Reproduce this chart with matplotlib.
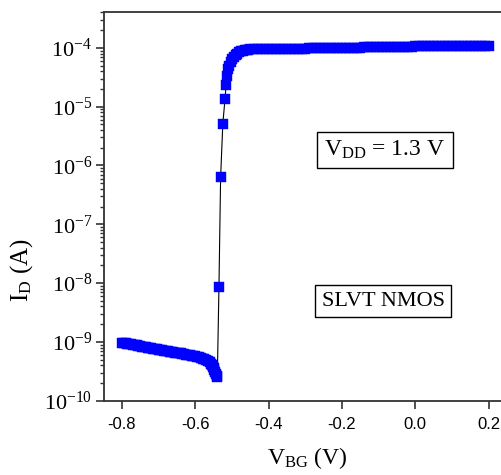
import numpy as np
import matplotlib
matplotlib.use("Agg")
import matplotlib.pyplot as plt
from matplotlib.ticker import LogLocator, NullFormatter

# back-gate sweep, values
# off state, current in units of 1e-10 A
vbg_off = [-0.800, -0.795, -0.790, -0.785, -0.780, -0.775, -0.770, -0.765, -0.760, -0.755,
           -0.750, -0.745, -0.740, -0.735, -0.730, -0.725, -0.720, -0.715, -0.710, -0.705,
           -0.700, -0.695, -0.690, -0.685, -0.680, -0.675, -0.670, -0.665, -0.660, -0.655,
           -0.650, -0.645, -0.640, -0.635, -0.630, -0.625, -0.620, -0.615, -0.610, -0.605,
           -0.600, -0.595, -0.590, -0.585, -0.580, -0.575, -0.570, -0.565, -0.560, -0.557,
           -0.555, -0.552, -0.550, -0.548, -0.546, -0.544, -0.542, -0.540]
id_off = [9.6, 9.5, 9.4, 9.3, 9.2, 9.1, 9.0, 8.85, 8.7, 8.6,
          8.45, 8.35, 8.25, 8.1, 8.0, 7.9, 7.8, 7.7, 7.6, 7.5,
          7.4, 7.3, 7.2, 7.1, 7.0, 6.9, 6.85, 6.75, 6.7, 6.6,
          6.5, 6.4, 6.35, 6.25, 6.2, 6.1, 6.0, 5.9, 5.85, 5.75,
          5.7, 5.55, 5.45, 5.3, 5.2, 5.05, 4.9, 4.7, 4.5, 4.25,
          4.06, 3.8, 3.6, 3.35, 3.1, 2.85, 2.6, 2.5]

# switching region, current in A
vbg_sw = [-0.5355, -0.531, -0.525, -0.519, -0.516, -0.513, -0.510, -0.507, -0.504, -0.500,
          -0.495, -0.490, -0.485, -0.480, -0.475, -0.470, -0.465, -0.460, -0.455, -0.450]
id_sw = [8.6e-9, 6.3e-7, 5.1e-6, 1.35e-5, 2.35e-5, 3.3e-5, 4.3e-5, 5.0e-5, 5.7e-5, 6.4e-5,
         7.1e-5, 7.6e-5, 8.0e-5, 8.4e-5, 8.7e-5, 8.9e-5, 9.1e-5, 9.2e-5, 9.3e-5, 9.4e-5]

# on state, current in units of 1e-5 A
vbg_on = [-0.44, -0.43, -0.42, -0.41, -0.40, -0.39, -0.38, -0.37, -0.36, -0.35,
          -0.34, -0.33, -0.32, -0.31, -0.30, -0.29, -0.28, -0.27, -0.26, -0.25,
          -0.24, -0.23, -0.22, -0.21, -0.20, -0.19, -0.18, -0.17, -0.16, -0.15,
          -0.14, -0.13, -0.12, -0.11, -0.10, -0.09, -0.08, -0.07, -0.06, -0.05,
          -0.04, -0.03, -0.02, -0.01, 0.00, 0.01, 0.02, 0.03, 0.04, 0.05,
          0.06, 0.07, 0.08, 0.09, 0.10, 0.11, 0.12, 0.13, 0.14, 0.15,
          0.16, 0.17, 0.18, 0.19, 0.20]
id_on = [9.50, 9.52, 9.55, 9.57, 9.60, 9.61, 9.62, 9.64, 9.65, 9.68,
         9.70, 9.71, 9.72, 9.74, 9.75, 9.78, 9.80, 9.83, 9.85, 9.87,
         9.90, 9.92, 9.95, 9.98, 10.0, 10.02, 10.05, 10.07, 10.1, 10.12,
         10.15, 10.17, 10.2, 10.25, 10.3, 10.32, 10.35, 10.37, 10.4, 10.42,
         10.45, 10.47, 10.5, 10.55, 10.6, 10.62, 10.65, 10.67, 10.7, 10.7,
         10.7, 10.72, 10.75, 10.77, 10.8, 10.8, 10.8, 10.82, 10.85, 10.85,
         10.85, 10.87, 10.9, 10.9, 10.9]

x_ticks = [-0.8, -0.6, -0.4, -0.2, 0.0, 0.2]
x_labels = ["-0.8", "-0.6", "-0.4", "-0.2", "0.0", "0.2"]
y_decades = [-10, -9, -8, -7, -6, -5, -4]

vbg = vbg_off + vbg_sw + vbg_on
i_d = list(np.array(id_off) * 1e-10) + id_sw + list(np.array(id_on) * 1e-5)

plt.rcParams['mathtext.fontset'] = 'stix'
serif = 'Liberation Serif'
sans = 'Liberation Sans'
axc = '#333333'

fig = plt.figure(figsize=(5.01, 4.75), dpi=100)
ax = fig.add_axes([104 / 501, 1 - 400.7 / 475, 403 / 501, 388.7 / 475])

ax.plot(vbg, i_d, color='black', lw=0.8, zorder=2)
ax.plot(vbg, i_d, ls='none', marker='s', ms=6.8, color='#0000FF', mec='#0000FF', mew=0.3, zorder=3)

ax.set_yscale('log')
ax.set_xlim(-0.849, 0.25)
ax.set_ylim(1e-10, 10 ** -3.39)

ax.set_xticks(x_ticks)
ax.set_xticklabels(x_labels, fontfamily=sans, fontsize=12)

ax.set_yticks([10.0 ** d for d in y_decades])
ax.set_yticklabels([r'$\mathregular{10^{%d}}$' % d for d in y_decades], fontfamily=serif, fontsize=16)
ax.yaxis.set_minor_locator(LogLocator(base=10, subs=np.arange(2, 10), numticks=20))
ax.yaxis.set_minor_formatter(NullFormatter())

for side in ['left', 'bottom', 'top']:
    ax.spines[side].set_color(axc)
    ax.spines[side].set_linewidth(1.3)
ax.spines['right'].set_visible(False)

ax.tick_params(axis='both', which='major', direction='out', length=5.5, width=1.2, color=axc, pad=3)
ax.tick_params(axis='y', which='minor', direction='out', length=3, width=1.0, color=axc)
ax.tick_params(axis='x', pad=6)
ax.tick_params(top=False, right=False, which='both')

fig.text(22 / 501, 1 - 270 / 475, r'$\mathregular{I_D}$ (A)', rotation=90, ha='center', va='center',
         fontfamily=serif, fontsize=18)
fig.text(307 / 501, 1 - 458 / 475, r'$\mathregular{V_{BG}}$ (V)', ha='center', va='center',
         fontfamily=serif, fontsize=17)

box = dict(boxstyle='square,pad=0.3', fc='white', ec='black', lw=1.0)
fig.text(385 / 501, 1 - 150 / 475, r'$\mathregular{V_{DD}}$ = 1.3 V', ha='center', va='center',
         fontfamily=serif, fontsize=17, bbox=box)
fig.text(383 / 501, 1 - 301 / 475, 'SLVT NMOS', ha='center', va='center',
         fontfamily=serif, fontsize=16, bbox=box)

fig.savefig('out.png', dpi=100)
